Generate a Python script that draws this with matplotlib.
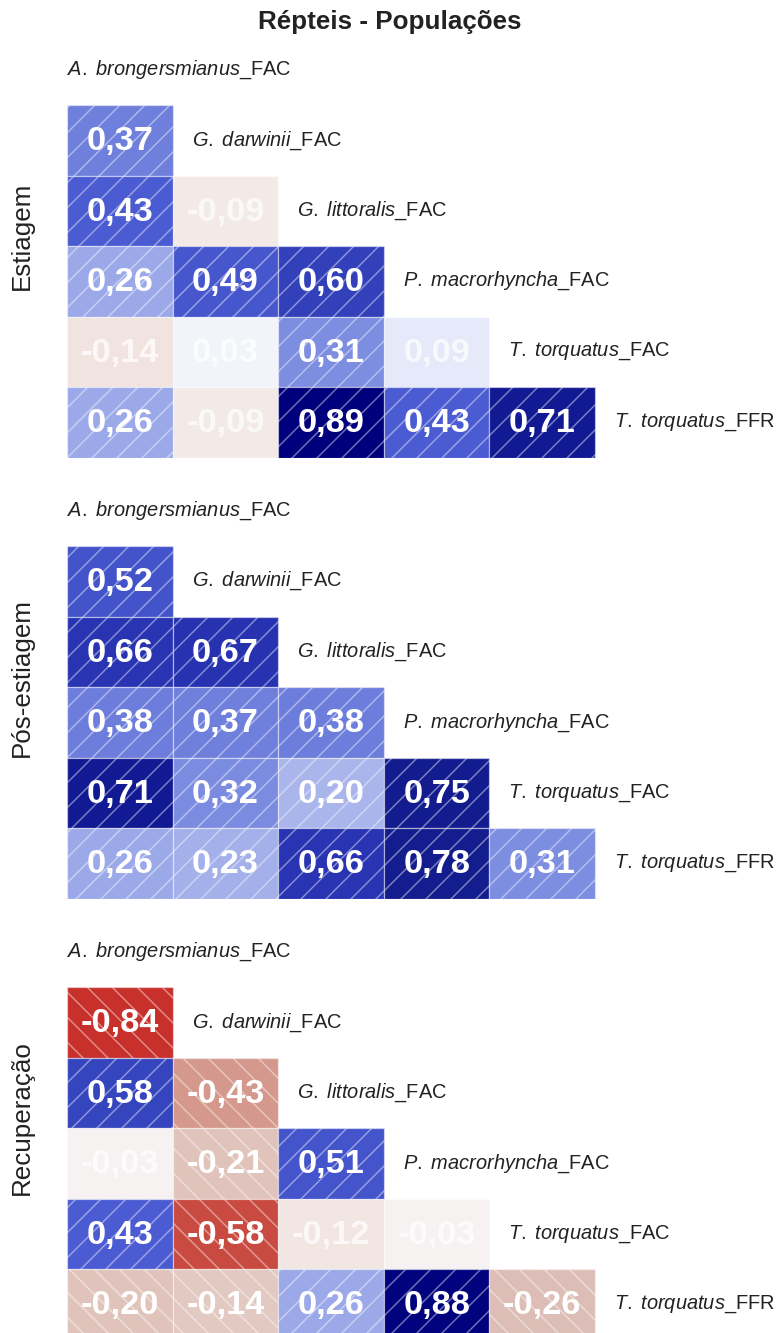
import numpy as np
import matplotlib
matplotlib.use("Agg")
import matplotlib.pyplot as plt
from matplotlib.colors import LinearSegmentedColormap, to_rgb
from matplotlib.patches import Rectangle

plt.rcParams['font.family'] = ['Liberation Sans', 'DejaVu Sans']
plt.rcParams['mathtext.fontset'] = 'custom'
plt.rcParams['mathtext.it'] = 'Liberation Sans:italic'
plt.rcParams['mathtext.rm'] = 'Liberation Sans'
plt.rcParams['hatch.linewidth'] = 0.7

title = "Répteis - Populações"
especies = ["A. brongersmianus", "G. darwinii", "G. littoralis",
            "P. macrorhyncha", "T. torquatus", "T. torquatus"]
sufixos = ["FAC", "FAC", "FAC", "FAC", "FAC", "FFR"]
periodos = ["Estiagem", "Pós-estiagem", "Recuperação"]

# lower triangle of the correlation matrix, row by row
estiagem = [[0.37],
            [0.43, -0.09],
            [0.26, 0.49, 0.60],
            [-0.14, 0.03, 0.31, 0.09],
            [0.26, -0.09, 0.89, 0.43, 0.71]]
pos_estiagem = [[0.52],
                [0.66, 0.67],
                [0.38, 0.37, 0.38],
                [0.71, 0.32, 0.20, 0.75],
                [0.26, 0.23, 0.66, 0.78, 0.31]]
recuperacao = [[-0.84],
               [0.58, -0.43],
               [-0.03, -0.21, 0.51],
               [0.43, -0.58, -0.12, -0.03],
               [-0.20, -0.14, 0.26, 0.88, -0.26]]
matrizes = [estiagem, pos_estiagem, recuperacao]

# cells (row, col) without significance: pale and without hatch
nao_sig = [[(1, 1), (3, 0), (3, 1), (3, 3), (4, 1)],
           [],
           [(2, 0), (3, 2), (3, 3)]]

# red -> almost white -> blue -> navy
ancoras = [(-1.0, '#b01818'), (-0.84, '#c8302c'), (-0.58, '#c94a40'),
           (-0.43, '#d59b8f'), (-0.26, '#ddbfb7'), (-0.20, '#e0c4bc'),
           (-0.14, '#e2c8c0'), (-0.05, '#ecdfdb'), (0.0, '#f0eeee'),
           (0.05, '#e0e4f6'), (0.10, '#c8d0f2'), (0.20, '#aab5eb'),
           (0.26, '#9eabe9'), (0.31, '#7d8de0'), (0.38, '#6d7ddb'),
           (0.43, '#4b5bd2'), (0.52, '#4353ca'), (0.60, '#3241ba'),
           (0.67, '#2732b0'), (0.71, '#111a92'), (0.78, '#141d8e'),
           (0.89, '#00007c'), (1.0, '#000070')]
cmap = LinearSegmentedColormap.from_list(
    'rep', [((v + 1) / 2, c) for v, c in ancoras])

W, H = 783, 1333
fig = plt.figure(figsize=(W / 150, H / 150), dpi=150)
fig.patch.set_facecolor('white')

col_w = 105.6
row_h = 70.5
x0 = 67
topos = [105, 546, 987]
n = 5

def rotulo(i):
    return r"$\mathit{" + especies[i].replace(" ", r"\ ") + "}$_" + sufixos[i]

for p, mat in enumerate(matrizes):
    top = topos[p]
    bottom = top + n * row_h
    ax = fig.add_axes([x0 / W, 1 - bottom / H, (W - x0) / W, (n + 1) * row_h / H])
    ax.set_xlim(0, (W - x0) / col_w)
    ax.set_ylim(n, -1)
    ax.axis('off')

    ax.text(0.0, -0.5, rotulo(0), fontsize=9.6, va='center', ha='left',
            color='#222222')
    for i, linha in enumerate(mat):
        for j, v in enumerate(linha):
            forte = (i, j) not in nao_sig[p]
            cor = np.array(cmap((v + 1) / 2)[:3])
            if not forte:
                cor = 0.5 * cor + 0.5
            hatch = ('//' if v > 0 else '\\\\') if forte else None
            ax.add_patch(Rectangle((j, i), 1, 1, facecolor=cor,
                                   edgecolor=(1, 1, 1, 0.45), linewidth=0.6,
                                   hatch=hatch))
            txt = f"{v:.2f}".replace('.', ',')
            ax.text(j + 0.5, i + 0.52, txt, ha='center', va='center',
                    fontsize=16.5, fontweight='bold',
                    color='white' if forte else (1, 1, 1, 0.75))
        ax.text(len(linha) + 0.18, i + 0.5, rotulo(i + 1), fontsize=9.6,
                va='center', ha='left', color='#222222')

    yc = (top - row_h + bottom) / 2 - 10
    fig.text(22 / W, 1 - yc / H, periodos[p], rotation=90, fontsize=12.5,
             ha='center', va='center', color='#222222')

fig.text(390 / W, 1 - 22 / H, title, fontsize=12.5, fontweight='bold',
         ha='center', va='center', color='#222222')

fig.savefig('out.png', dpi=150)
